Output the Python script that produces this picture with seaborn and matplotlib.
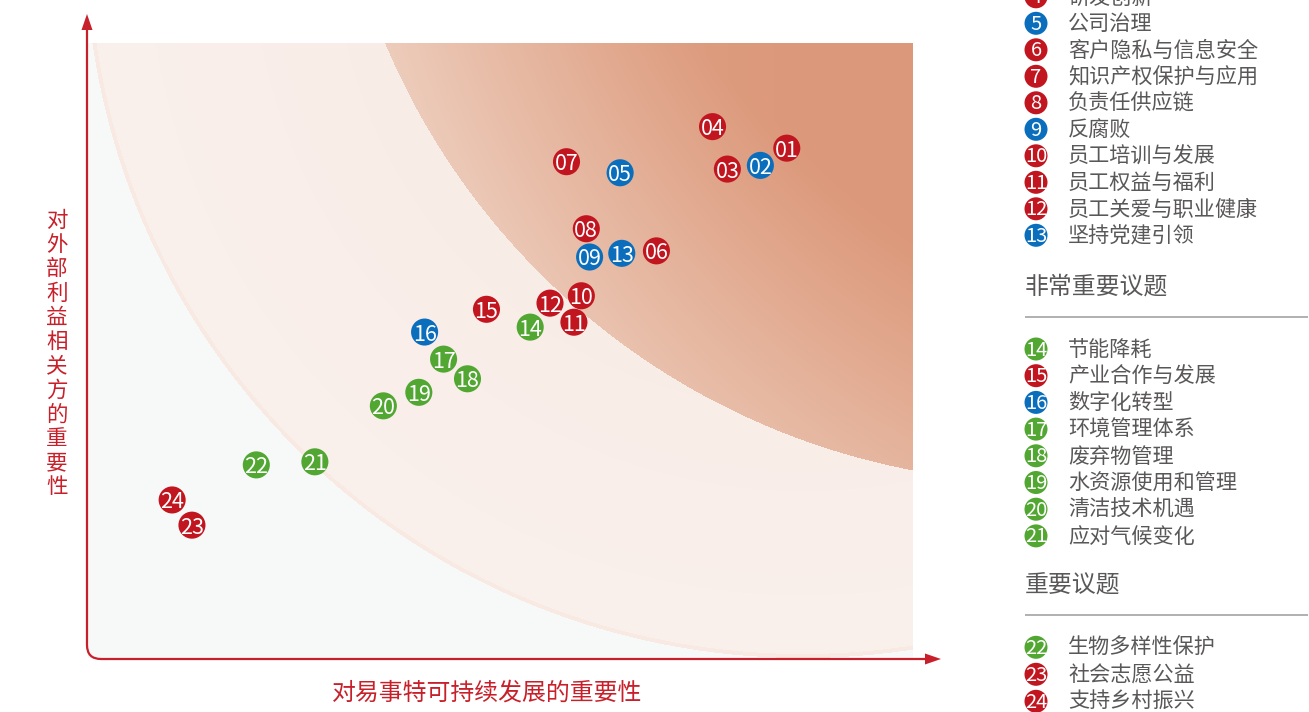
import numpy as np
import pandas as pd
import matplotlib
matplotlib.use("Agg")
import matplotlib.pyplot as plt
import seaborn as sns
from matplotlib.patches import Circle, Polygon, PathPatch
from matplotlib.path import Path

# ---------------- data ----------------
issue_ids = ["01", "02", "03", "04", "05", "06", "07", "08", "09", "10", "11", "12",
             "13", "14", "15", "16", "17", "18", "19", "20", "21", "22", "23", "24"]
# importance to sustainable development (x) / to external stakeholders (y), 0-10 scale
x_values = [8.47, 8.15, 7.75, 7.57, 6.45, 6.89, 5.80, 6.04, 6.08, 5.98, 5.89, 5.60,
            6.47, 5.36, 4.83, 4.08, 4.31, 4.60, 4.01, 3.58, 2.75, 2.04, 1.26, 1.02]
y_values = [8.29, 8.01, 7.95, 8.64, 7.89, 6.62, 8.07, 6.98, 6.52, 5.89, 5.46, 5.77,
            6.58, 5.38, 5.67, 5.30, 4.86, 4.54, 4.32, 4.10, 3.19, 3.14, 2.16, 2.57]
groups = ["社会", "治理", "社会", "社会", "治理", "社会", "社会", "社会", "治理", "社会",
          "社会", "社会", "治理", "环境", "社会", "治理", "环境", "环境", "环境", "环境",
          "环境", "环境", "社会", "社会"]

legend_numbers = ["4", "5", "6", "7", "8", "9", "10", "11", "12", "13",
                  "14", "15", "16", "17", "18", "19", "20", "21",
                  "22", "23", "24"]
legend_labels = ["研发创新", "公司治理", "客户隐私与信息安全", "知识产权保护与应用", "负责任供应链",
                 "反腐败", "员工培训与发展", "员工权益与福利", "员工关爱与职业健康", "坚持党建引领",
                 "节能降耗", "产业合作与发展", "数字化转型", "环境管理体系", "废弃物管理",
                 "水资源使用和管理", "清洁技术机遇", "应对气候变化",
                 "生物多样性保护", "社会志愿公益", "支持乡村振兴"]
legend_groups = ["社会", "治理", "社会", "社会", "社会", "治理", "社会", "社会", "社会", "治理",
                 "环境", "社会", "治理", "环境", "环境", "环境", "环境", "环境",
                 "环境", "社会", "社会"]
section_titles = ["非常重要议题", "重要议题"]
x_label = "对易事特可持续发展的重要性"
y_label = "对外部利益相关方的重要性"

palette = {"社会": "#c1161f", "治理": "#0a6ebd", "环境": "#52a733"}
AXIS_RED = "#c8202a"
TEXT_GRAY = "#595757"

# ---------------- figure ----------------
sns.set_theme(style="white")
plt.rcParams["font.family"] = ["Noto Sans CJK SC", "DejaVu Sans"]

W, H = 1309, 712
fig = plt.figure(figsize=(W / 100, H / 100), dpi=100)
fig.patch.set_facecolor("white")

# overlay axes in pixel coordinates (background, axis arrows, legend)
axo = fig.add_axes([0, 0, 1, 1])
axo.set_xlim(0, W)
axo.set_ylim(H, 0)
axo.axis("off")
axo.set_zorder(0)

# panel in pixels
PL, PR, PT, PB = 88, 913, 43, 658

# ---- background gradient image ----
px, py = np.meshgrid(np.arange(PL, PR) + 0.5, np.arange(PT, PB) + 0.5)
base = np.array([0xf7, 0xf9, 0xf8]) / 255.0
ring = np.array([0xfa, 0xf0, 0xec]) / 255.0
ring2 = np.array([0xf8, 0xea, 0xe4]) / 255.0
ring_edge = np.array([0xf8, 0xe9, 0xe2]) / 255.0
light = np.array([0xed, 0xcc, 0xbb]) / 255.0
dark = np.array([0xdc, 0x98, 0x7a]) / 255.0

R = 718.0
d_out = np.hypot(px - 803, py + 60)
d_in = np.hypot(px - 1047, py + 235)

img = np.empty(px.shape + (3,))
img[:] = base
ring_mask = d_out <= R
tr = np.clip((R - d_out) / 500.0, 0, 1)[..., None]
ring_col = ring + (ring2 - ring) * tr
img = np.where(ring_mask[..., None], ring_col, img)
edge_mask = ring_mask & (d_out > R - 4)
img = np.where(edge_mask[..., None], ring_edge, img)
inner_mask = d_in <= R
t1 = np.clip((R - d_in) / 270.0, 0, 1)
t2 = np.clip((px - 385) / 528.0, 0, 1)
t = np.clip(0.65 * t1 + 0.45 * t2, 0, 1)[..., None]
inner_col = light + (dark - light) * t
img = np.where(inner_mask[..., None], inner_col, img)

axo.imshow(img, extent=(PL, PR, PB, PT), origin="upper", aspect="auto",
           interpolation="bilinear", zorder=0)

# ---- axis arrows ----
verts = [(87, 28), (87, 645), (87, 659), (101, 659), (928, 659)]
codes = [Path.MOVETO, Path.LINETO, Path.CURVE3, Path.CURVE3, Path.LINETO]
axo.add_patch(PathPatch(Path(verts, codes), fill=False, edgecolor=AXIS_RED,
                        lw=1.6, capstyle="butt", zorder=2))
axo.add_patch(Polygon([(87, 14), (81.5, 30), (92.5, 30)], closed=True,
                      facecolor=AXIS_RED, edgecolor="none", zorder=2))
axo.add_patch(Polygon([(941, 659), (925, 653.5), (925, 664.5)], closed=True,
                      facecolor=AXIS_RED, edgecolor="none", zorder=2))

axo.text(57, 354, "\n".join(y_label), ha="center", va="center", color=AXIS_RED,
         fontsize=15.5, linespacing=1.13)
axo.text(487, 693, x_label, ha="center", va="center", color=AXIS_RED, fontsize=17.2)

# ---- legend ----
def legend_row(y, num, label, grp):
    axo.add_patch(Circle((1036, y), 11.5, facecolor=palette[grp], edgecolor="none", zorder=3))
    axo.text(1036, y + 1, num, ha="center", va="center", color="white", fontsize=14.5,
             zorder=4)
    axo.text(1068, y + 1, label, ha="left", va="center", color=TEXT_GRAY, fontsize=15.2,
             zorder=4)

rows_y = []
rows_y += [-3.2 + 26.5 * i for i in range(10)]
rows_y += [349.0 + 26.7 * i for i in range(8)]
rows_y += [647.3 + 27.0 * i for i in range(3)]
for y, n, lab, g in zip(rows_y, legend_numbers, legend_labels, legend_groups):
    legend_row(y, n, lab, g)

for title, ty, ly in zip(section_titles, [287.0, 586.0], [316.7, 615.0]):
    axo.text(1025, ty, title, ha="left", va="center", color=TEXT_GRAY, fontsize=17.2)
    axo.plot([1025, 1308], [ly, ly], color="#9b9b9b", lw=1.1, solid_capstyle="butt")

# ---------------- scatter (main axes) ----------------
ax = fig.add_axes([PL / W, (H - PB) / H, (PR - PL) / W, (PB - PT) / H])
ax.set_zorder(1)
ax.patch.set_alpha(0)
df = pd.DataFrame({"id": issue_ids, "x": x_values, "y": y_values, "group": groups})
sns.scatterplot(data=df, x="x", y="y", hue="group", palette=palette, s=380,
                edgecolor="none", legend=False, ax=ax, zorder=3)
for _, r in df.iterrows():
    ax.text(r["x"], r["y"] - 0.04, r["id"], ha="center", va="center", color="white",
            fontsize=15.5, zorder=4)
ax.set_xlim(0, 10)
ax.set_ylim(0, 10)
ax.axis("off")

fig.savefig("out.png", dpi=100, facecolor="white")
